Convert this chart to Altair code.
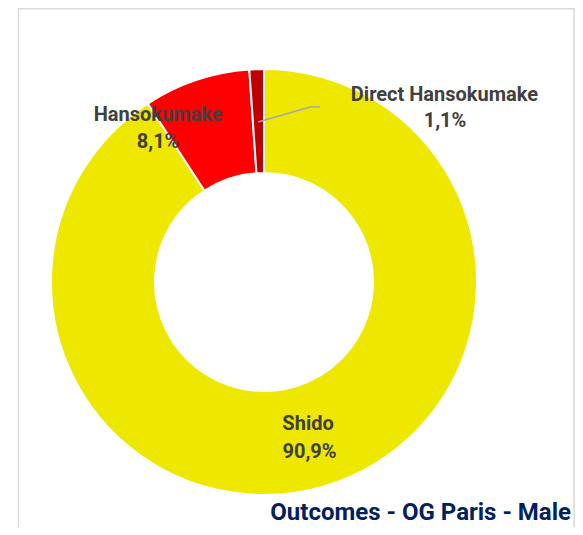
import altair as alt
import pandas as pd

categories = ["Shido", "Hansokumake", "Direct Hansokumake"]
values = [90.9, 8.1, 1.1]
pct_labels = ["90,9%", "8,1%", "1,1%"]
colors = ["#EEE700", "#FF0000", "#C00000"]
title_text = "Outcomes - OG Paris - Male"

df = pd.DataFrame({"cat": categories, "val": values, "pct": pct_labels,
                   "ord": list(range(len(categories)))})
total = float(sum(values))
one = pd.DataFrame({"k": [0]})

CX, CY = 256, 274
R_OUT, R_IN, R_LAB = 213, 109, 161
theta_scale = alt.Scale(domain=[0, total])
FONT = "Roboto"
TXT = "#404040"

arcs = alt.Chart(df).mark_arc(outerRadius=R_OUT, innerRadius=R_IN, stroke="white",
                              strokeWidth=2).encode(
    theta=alt.Theta("val:Q", stack=True, scale=theta_scale),
    color=alt.Color("cat:N", scale=alt.Scale(domain=categories, range=colors), legend=None),
    order=alt.Order("ord:Q"),
    x=alt.value(CX), y=alt.value(CY),
)

lab_base = alt.Chart(df).transform_window(
    cum="sum(val)", sort=[alt.SortField("ord")], frame=[None, 0]
).transform_calculate(mid="datum.cum - datum.val / 2")

# per-label (name dx, name dy, pct dx, pct dy) offsets from slice mid point
offsets = {
    "Shido": (-1.8, -12.3, -0.3, 15.7),
    "Hansokumake": (-54.8, -14.3, -54.8, 12.2),
    "Direct Hansokumake": (186, -26, 186.6, 0),
}

text_layers = []
for c in categories:
    ndx, ndy, pdx, pdy = offsets[c]
    b = lab_base.transform_filter(alt.datum.cat == c)
    enc = dict(theta=alt.Theta("mid:Q", stack=None, scale=theta_scale),
               x=alt.value(CX), y=alt.value(CY))
    text_layers.append(b.mark_text(radius=R_LAB, dx=ndx, dy=ndy, font=FONT, fontSize=20,
                                   fontWeight="bold", color=TXT, align="center",
                                   baseline="middle").encode(text="cat:N", **enc))
    text_layers.append(b.mark_text(radius=R_LAB, dx=pdx, dy=pdy, font=FONT, fontSize=20,
                                   fontWeight="bold", color=TXT, align="center",
                                   baseline="middle").encode(text="pct:N", **enc))

leader1 = alt.Chart(one).mark_rule(color="#A6A6A6", strokeWidth=1.5).encode(
    x=alt.value(250), y=alt.value(114), x2=alt.value(302), y2=alt.value(99))
leader2 = alt.Chart(one).mark_rule(color="#A6A6A6", strokeWidth=1.5).encode(
    x=alt.value(302), y=alt.value(99), x2=alt.value(312), y2=alt.value(99))

border = alt.Chart(one).mark_rect(fillOpacity=0, stroke="#D9D9D9", strokeWidth=1.5).encode(
    x=alt.value(10.5), x2=alt.value(566), y=alt.value(0.75), y2=alt.value(540))

title = alt.Chart(one).mark_text(font=FONT, fontSize=24, fontWeight="bold", color="#002060",
                                 align="right", baseline="middle").encode(
    x=alt.value(563), y=alt.value(505), text=alt.value(title_text))

chart = alt.layer(border, arcs, leader1, leader2, *text_layers, title).properties(
    width=567, height=519, padding=0, autosize="none"
).configure_view(stroke=None)

chart.save("out.html", embed_options={"renderer": "svg", "actions": False})
